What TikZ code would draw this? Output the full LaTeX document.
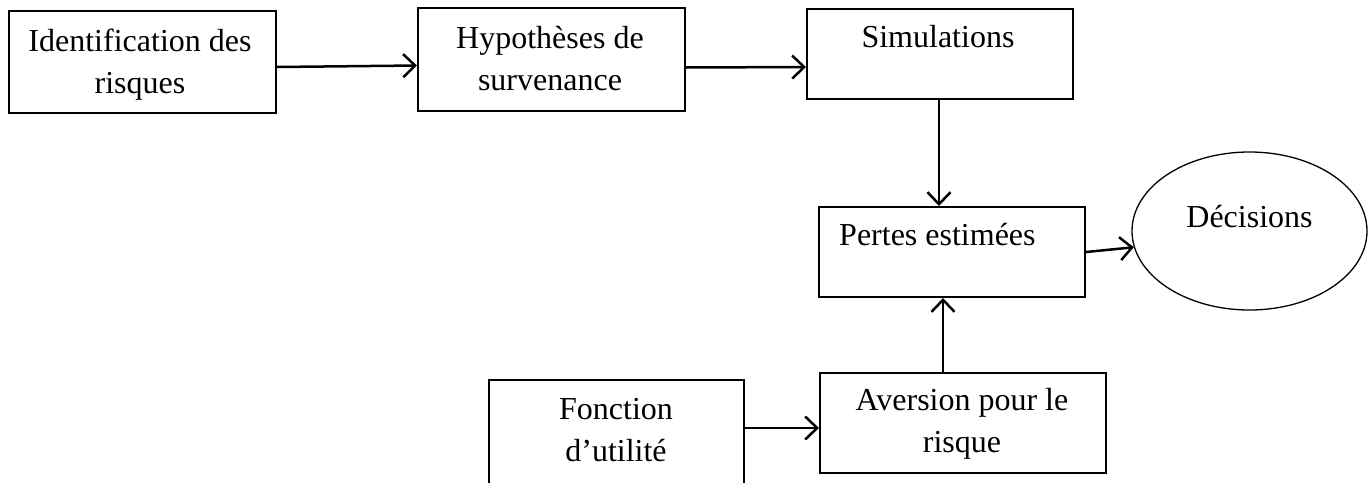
\documentclass[tikz,border=0pt]{standalone}
\usepackage{fontspec}
\setmainfont{Liberation Serif}
\usetikzlibrary{arrows.meta,shapes.geometric,calc}
\tikzset{
  boxnode/.style={draw=black, line width=2pt, rectangle, inner sep=0pt, anchor=north west},
  ovalnode/.style={draw=black, line width=1.3pt, ellipse, inner sep=0pt},
  lbl/.style={anchor=base, inner sep=0pt, font=\fontsize{32}{42}\selectfont},
  lblleft/.style={anchor=base west, inner sep=0pt, font=\fontsize{32}{42}\selectfont},
  flow/.style={line width=2.5pt, -{Straight Barb[length=12pt,width=23pt,line width=2.5pt]}}
}
\begin{document}
\begin{tikzpicture}[x=1pt,y=-1pt]
\clip (0,0) rectangle (1368,482);
\fill[white] (0,0) rectangle (1368,482);
% boxes
\node[boxnode, minimum width=267pt, minimum height=102pt] (b1) at (8,10) {};
\node[boxnode, minimum width=267pt, minimum height=103pt] (b2) at (417,7) {};
\node[boxnode, minimum width=266pt, minimum height=90pt] (b3) at (806,8) {};
\node[boxnode, minimum width=266pt, minimum height=90pt] (b4) at (818,206) {};
\node[ovalnode, minimum width=235pt, minimum height=158pt] (b5) at (1249.5,231) {};
\node[boxnode, minimum width=255pt, minimum height=140pt] (b6) at (488,379) {};
\node[boxnode, minimum width=286pt, minimum height=100pt] (b7) at (819,372) {};
% texts
\node[lbl] (t1) at (140,51) {\begin{tabular}[t]{@{}c@{}}Identification des\\risques\end{tabular}};
\node[lbl] (t2) at (550,48) {\begin{tabular}[t]{@{}c@{}}Hypothèses de\\survenance\end{tabular}};
\node[lbl] (t3) at (938,47) {Simulations};
\node[lblleft] (t4) at (839,245) {Pertes estimées};
\node[lbl] (t5) at (1249.5,227) {Décisions};
\node[lbl] (t6) at (616,419) {\begin{tabular}[t]{@{}c@{}}Fonction\\d’utilité\end{tabular}};
\node[lbl] (t7) at (962,410) {\begin{tabular}[t]{@{}c@{}}Aversion pour le\\risque\end{tabular}};
% connectors
\draw[flow] ([yshift=-5pt]b1.east) -- ([yshift=-6pt]b2.west);
\draw[flow] ([yshift=-8pt]b2.east) -- ([yshift=-13pt]b3.west);
\draw[flow] ([xshift=-1pt]b3.south) -- ([xshift=-13pt]b4.north);
\draw[flow] (b4.east) -- (b5.188);
\draw[flow] ([yshift=22pt]b6.east) -- ([yshift=-5pt]b7.west);
\draw[flow] ([xshift=-20pt]b7.north) -- ([xshift=-9pt]b4.south);
\end{tikzpicture}
\end{document}
